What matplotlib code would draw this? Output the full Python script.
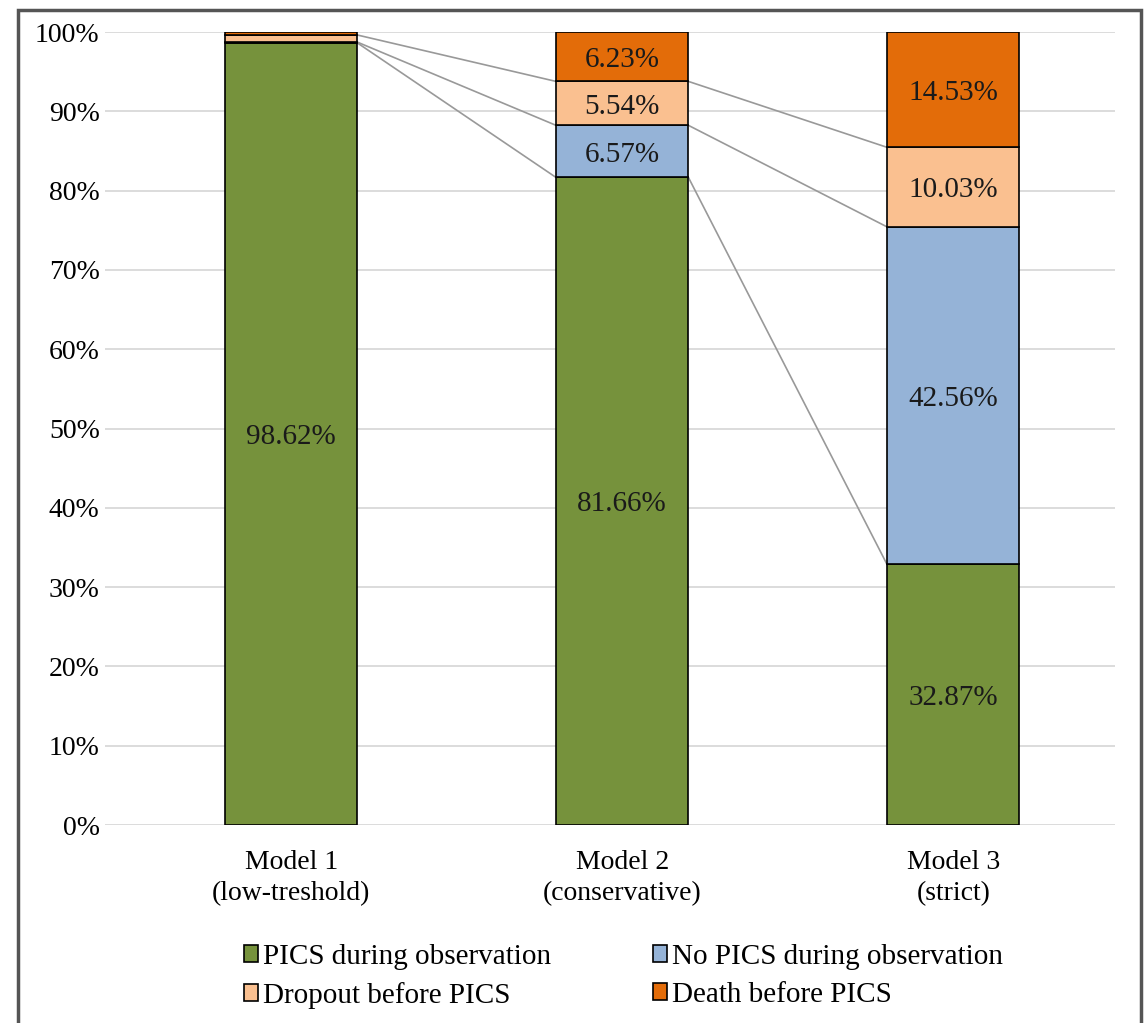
import matplotlib.pyplot as plt
from matplotlib.patches import Rectangle

plt.rcParams['font.family'] = ['Liberation Serif', 'DejaVu Serif']

models = ["Model 1\n(low-treshold)", "Model 2\n(conservative)", "Model 3\n(strict)"]
series = ["PICS during observation", "No PICS during observation",
          "Dropout before PICS", "Death before PICS"]
pics = [98.62, 81.66, 32.87]
no_pics = [0.10, 6.57, 42.56]
dropout = [0.90, 5.54, 10.03]
death = [0.38, 6.23, 14.53]
colors = ["#76923c", "#95b3d7", "#fac090", "#e36c09"]

values = [pics, no_pics, dropout, death]
# only the larger segments carry a value label
show_label = [[True, True, True], [False, True, True],
              [False, True, True], [False, True, True]]

fig = plt.figure(figsize=(11.44, 10.23), dpi=100)
ax = fig.add_axes([0.092, 0.1935, 0.883, 0.7752])

x = list(range(len(models)))
width = 0.4
bottoms = [0.0] * len(models)
tops = []
handles = []
for vals, col, name, lab in zip(values, colors, series, show_label):
    h = ax.bar(x, vals, width, bottom=bottoms, color=col, edgecolor="black",
               linewidth=1.2, label=name, zorder=3)
    handles.append(h)
    for i, v in enumerate(vals):
        if lab[i]:
            ax.text(x[i], bottoms[i] + v / 2 - 0.4, f"{v:.2f}%", ha="center",
                    va="center", fontsize=21, color="#1a1a1a", zorder=4)
    bottoms = [b + v for b, v in zip(bottoms, vals)]
    tops.append(list(bottoms))

# series lines joining the segment boundaries of neighbouring bars
for level in tops[:-1]:
    for i in range(len(models) - 1):
        ax.plot([x[i] + width / 2, x[i + 1] - width / 2],
                [level[i], level[i + 1]], color="#999999", lw=1.2, zorder=2)

ax.set_ylim(0, 100)
ax.set_xlim(-0.562, 2.49)
ax.set_yticks(range(0, 101, 10))
ax.set_yticklabels([f"{t}%" for t in range(0, 101, 10)], fontsize=20)
ax.set_xticks(x)
ax.set_xticklabels(models, fontsize=20, linespacing=1.3)
ax.tick_params(length=0, pad=18)
ax.tick_params(axis="y", pad=4)
ax.grid(axis="y", color="#d9d9d9", lw=1.3, zorder=0)
for s in ax.spines.values():
    s.set_visible(False)

# legend filled row by row
order = [0, 2, 1, 3]
fig.legend([handles[k] for k in order], [series[k] for k in order],
           ncol=2, loc="lower left", bbox_to_anchor=(0.19, -0.012),
           frameon=False, fontsize=21, handlelength=0.5,
           handleheight=0.5, handletextpad=0.15, columnspacing=3.5,
           labelspacing=0.42)

# outer frame of the figure
fig.add_artist(Rectangle((18 / 1144, -0.05), (1141 - 18) / 1144, 1.05 - 10 / 1023,
                         transform=fig.transFigure, fill=False,
                         edgecolor="#555555", lw=2.5))

fig.savefig("out.png", dpi=100)
